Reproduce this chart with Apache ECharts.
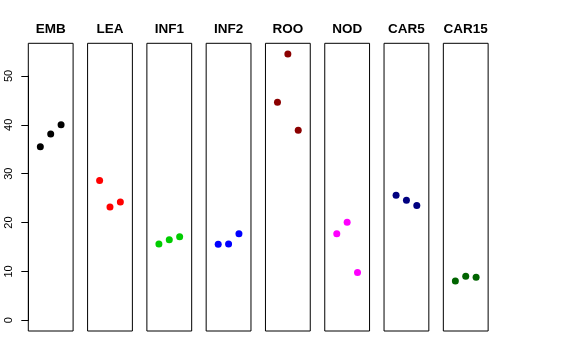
<!DOCTYPE html>
<html><head><meta charset="utf-8">
<script src="https://cdn.jsdelivr.net/npm/echarts@6/dist/echarts.min.js"></script>
<style>html,body{margin:0;padding:0;background:#fff}#c{width:576px;height:360px}</style>
</head><body><div id="c"></div>
<script>
const panels = ["EMB","LEA","INF1","INF2","ROO","NOD","CAR5","CAR15"];
const colors = ["#000000","#FF0000","#00CD00","#0000FF","#8B0000","#FF00FF","#000080","#006400"];
const positions = [1,2,3];
const EMB = [35.5, 38.1, 40.0];
const LEA = [28.6, 23.2, 24.2];
const INF1 = [15.6, 16.5, 17.1];
const INF2 = [15.55, 15.6, 17.7];
const ROO = [44.6, 54.5, 38.9];
const NOD = [17.7, 20.05, 9.8];
const CAR5 = [25.6, 24.55, 23.5];
const CAR15 = [8.05, 9.0, 8.8];
const values = [EMB, LEA, INF1, INF2, ROO, NOD, CAR5, CAR15];
const yTicks = [0,10,20,30,40,50];

const panelLeft0 = 28.3, panelStep = 59.29, panelW = 44.8;
const panelTop = 43.3, panelBottom = 331;
const yMin = -2.19, yMax = 56.67;
const y0px = 320.3, y50px = 75.9;

const grid = [], xAxis = [], yAxis = [], series = [], title = [];
panels.forEach((name, i) => {
  const left = panelLeft0 + i * panelStep;
  grid.push({left: left, top: panelTop, width: panelW, height: panelBottom - panelTop,
    show: true, borderColor: '#000', borderWidth: 1, backgroundColor: 'transparent', containLabel: false});
  xAxis.push({gridIndex: i, type: 'value', min: -0.16, max: 4.16, show: false});
  yAxis.push({gridIndex: i, type: 'value', min: yMin, max: yMax, show: false});
  series.push({type: 'scatter', xAxisIndex: i, yAxisIndex: i, symbol: 'circle', symbolSize: 7,
    itemStyle: {color: colors[i], opacity: 1}, silent: true,
    data: positions.map((p, k) => [p, values[i][k]])});
  title.push({text: name, left: left + panelW / 2, top: 22, textAlign: 'center', padding: 0,
    textStyle: {fontFamily: 'Liberation Sans, Arial, sans-serif', fontWeight: 'bold', fontSize: 13.5, color: '#000'}});
});
// axis grid spanning 0..50
grid.push({left: panelLeft0, top: y50px, width: 1, height: y0px - y50px, show: false});
xAxis.push({gridIndex: 8, type: 'value', show: false});
yAxis.push({gridIndex: 8, type: 'value', min: yTicks[0], max: yTicks[yTicks.length-1], interval: 10,
  axisLine: {show: true, lineStyle: {color: '#000', width: 1}},
  axisTick: {show: true, length: 7, lineStyle: {color: '#000', width: 1}},
  splitLine: {show: false},
  axisLabel: {rotate: 90, margin: 14, fontSize: 11, color: '#000', fontFamily: 'Liberation Sans, Arial, sans-serif'}});

const chart = echarts.init(document.getElementById('c'), null, {renderer: 'canvas'});
chart.setOption({animation: false, backgroundColor: '#fff', title, grid, xAxis, yAxis, series});
</script></body></html>
